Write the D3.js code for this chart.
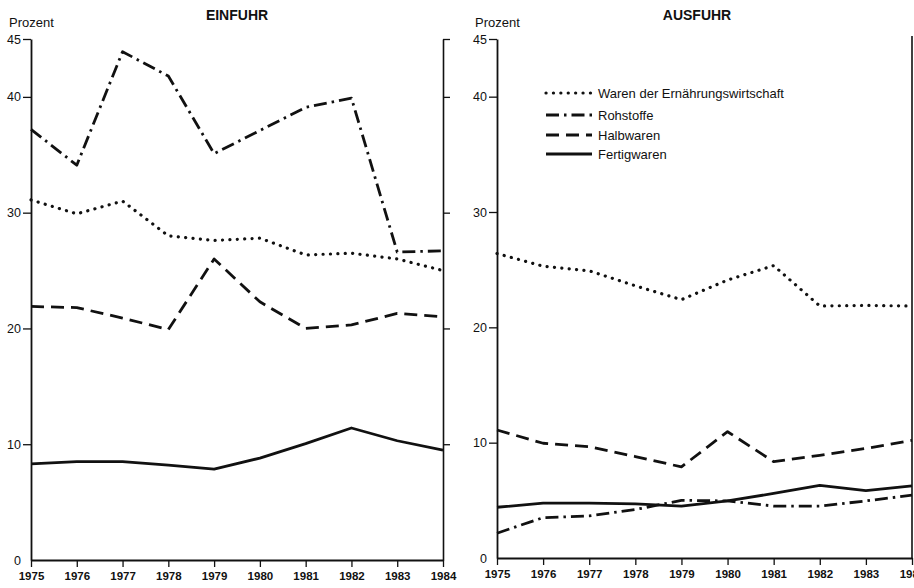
<!DOCTYPE html>
<html>
<head>
<meta charset="utf-8">
<script src="https://cdn.jsdelivr.net/npm/d3@7"></script>
<style>
  html, body { margin: 0; padding: 0; background: #fff; }
  svg text { font-family: "Liberation Sans", Arial, sans-serif; fill: #111; }
</style>
</head>
<body>
<svg id="chart" width="914" height="588"></svg>
<script>
// ---- data ----
const years = [1975, 1976, 1977, 1978, 1979, 1980, 1981, 1982, 1983, 1984];
const seriesNames = ["Waren der Ernährungswirtschaft", "Rohstoffe", "Halbwaren", "Fertigwaren"];
const panelTitles = ["EINFUHR", "AUSFUHR"];
const yTicks = [0, 10, 20, 30, 40, 45];
const yLabel = "Prozent";

// EINFUHR
const einfuhrNahrung = [31.1, 29.9, 31.0, 28.0, 27.6, 27.8, 26.35, 26.5, 26.0, 25.0];
const einfuhrRohstoffe = [37.2, 34.1, 43.9, 41.8, 35.1, 37.1, 39.1, 39.9, 26.6, 26.7];
const einfuhrHalbwaren = [21.9, 21.8, 20.9, 19.9, 26.0, 22.3, 20.0, 20.3, 21.3, 21.0];
const einfuhrFertigwaren = [8.3, 8.5, 8.5, 8.2, 7.85, 8.8, 10.05, 11.4, 10.3, 9.5];

// AUSFUHR
const ausfuhrNahrung = [26.4, 25.3, 24.9, 23.6, 22.4, 24.1, 25.35, 21.85, 21.9, 21.85];
const ausfuhrRohstoffe = [2.15, 3.5, 3.65, 4.2, 5.0, 4.95, 4.5, 4.5, 4.95, 5.45];
const ausfuhrHalbwaren = [11.1, 9.95, 9.65, 8.8, 7.9, 10.95, 8.35, 8.9, 9.5, 10.2];
const ausfuhrFertigwaren = [4.4, 4.75, 4.75, 4.7, 4.5, 4.95, 5.6, 6.3, 5.85, 6.25];

// ---- styles ----
const styles = [
  { dash: "0.1,7.3", cap: "round", width: 3.2 },
  { dash: "13,5,2.5,5", cap: "butt", width: 2.8 },
  { dash: "13,7", cap: "butt", width: 2.8 },
  { dash: null, cap: "butt", width: 2.8 }
];

const svg = d3.select("#chart");

const panels = [
  { title: panelTitles[0], data: [einfuhrNahrung, einfuhrRohstoffe, einfuhrHalbwaren, einfuhrFertigwaren],
    x0: 31, x1: 443, yBottom: 560, yTop: 39, titleX: 237, legend: false, rightTicks: true, rightX: 443 },
  { title: panelTitles[1], data: [ausfuhrNahrung, ausfuhrRohstoffe, ausfuhrHalbwaren, ausfuhrFertigwaren],
    x0: 497, x1: 912, yBottom: 558, yTop: 39, titleX: 697, legend: true, rightTicks: false, rightX: 912 }
];

panels.forEach(p => {
  const g = svg.append("g");
  const x = d3.scaleLinear().domain([years[0], years[years.length - 1]]).range([p.x0, p.x1]);
  const y = d3.scaleLinear().domain([0, 45]).range([p.yBottom, p.yTop]);

  // title
  g.append("text").attr("x", p.titleX).attr("y", 20).attr("text-anchor", "middle")
    .style("font-size", "14px").style("font-weight", "bold").text(p.title);
  // y label
  g.append("text").attr("x", p.x0 - 22).attr("y", 27)
    .style("font-size", "13px").text(yLabel);

  // left y axis
  const yAxis = d3.axisLeft(y).tickValues(yTicks).tickSize(8).tickSizeOuter(0).tickFormat(d3.format("d"));
  const ya = g.append("g").attr("transform", `translate(${p.x0},0)`).call(yAxis);
  ya.select(".domain").attr("stroke", "#111").attr("stroke-width", 1.8);
  ya.selectAll(".tick line").attr("stroke", "#111").attr("stroke-width", 1.3)
    .attr("x2", d => d === 0 ? 0 : -8);
  ya.selectAll(".tick text").style("font-size", "12.5px").attr("x", -10).attr("fill", "#111");

  // right border / axis
  if (p.rightTicks) {
    const rAxis = d3.axisRight(y).tickValues([10, 20, 30, 40, 45]).tickSize(7).tickSizeOuter(0).tickFormat("");
    const ra = g.append("g").attr("transform", `translate(${p.rightX},0)`).call(rAxis);
    ra.select(".domain").attr("stroke", "#111").attr("stroke-width", 1.6);
    ra.selectAll(".tick line").attr("stroke", "#111").attr("stroke-width", 1.3);
  } else {
    g.append("line").attr("x1", p.rightX).attr("x2", p.rightX)
      .attr("y1", y(45) - 3).attr("y2", p.yBottom)
      .attr("stroke", "#111").attr("stroke-width", 1.6);
  }

  // x axis
  const xAxis = d3.axisBottom(x).tickValues(years).tickSize(7).tickSizeOuter(0).tickFormat(d3.format("d"));
  const xa = g.append("g").attr("transform", `translate(0,${p.yBottom})`).call(xAxis);
  xa.select(".domain").attr("stroke", "#111").attr("stroke-width", 1.8);
  xa.selectAll(".tick line").attr("stroke", "#111").attr("stroke-width", 1.3);
  xa.selectAll(".tick text").style("font-size", "11.5px").attr("y", 12).attr("fill", "#111")
    .style("font-family", "'Liberation Sans Narrow', 'Liberation Sans', sans-serif")
    .style("font-weight", "bold");

  // lines
  const line = d3.line().x((d, i) => x(years[i])).y(d => y(d));
  p.data.forEach((vals, si) => {
    const st = styles[si];
    g.append("path").datum(vals).attr("d", line)
      .attr("fill", "none").attr("stroke", "#111")
      .attr("stroke-width", st.width)
      .attr("stroke-linecap", st.cap)
      .attr("stroke-linejoin", "round")
      .attr("stroke-dasharray", st.dash);
  });

  // legend
  if (p.legend) {
    const legY = [93, 115, 135, 154];
    seriesNames.forEach((name, si) => {
      const st = styles[si];
      g.append("line").attr("x1", 546).attr("x2", 592)
        .attr("y1", legY[si]).attr("y2", legY[si])
        .attr("stroke", "#111").attr("stroke-width", st.width)
        .attr("stroke-linecap", st.cap).attr("stroke-dasharray", st.dash);
      g.append("text").attr("x", 598).attr("y", legY[si]).attr("dy", "0.35em")
        .style("font-size", "13px").text(name);
    });
  }
});
</script>
</body>
</html>
